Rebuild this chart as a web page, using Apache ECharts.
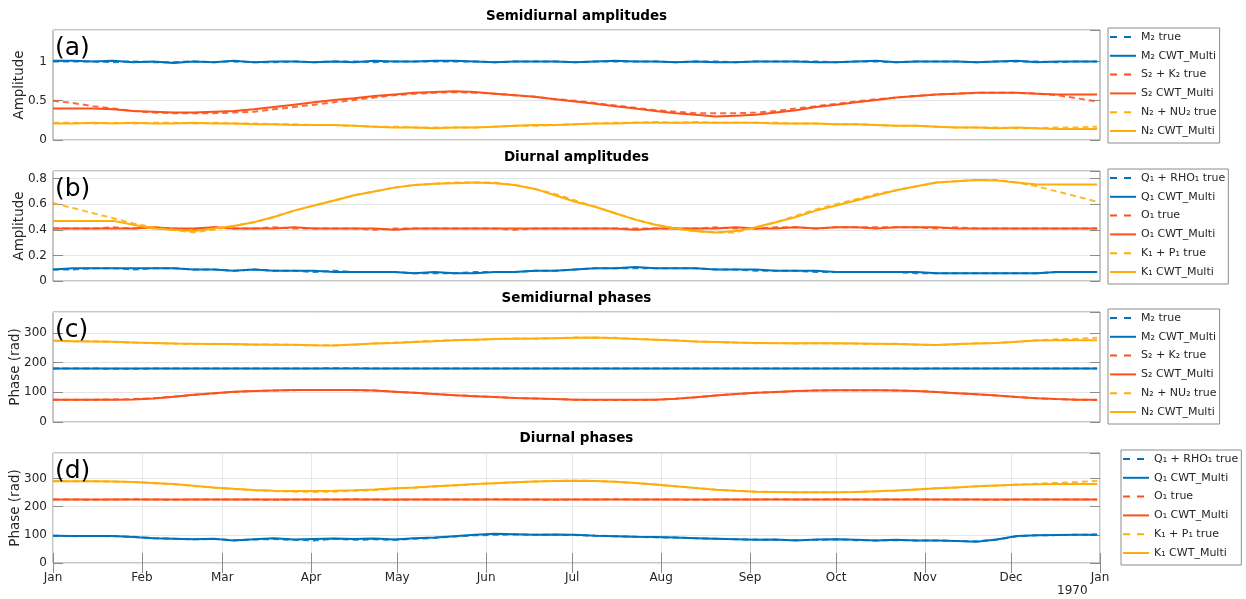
<!DOCTYPE html>
<html>
<head>
<meta charset="utf-8">
<script src="https://cdn.jsdelivr.net/npm/echarts@6/dist/echarts.min.js"></script>
<style>
  html, body { margin: 0; padding: 0; background: #ffffff; }
  #chart { width: 1246px; height: 599px; }
</style>
</head>
<body>
<div id="chart"></div>
<script>
// Time base: weekly samples over 1969
const DAY = 86400000;
const START = Date.UTC(1969, 0, 1);
const END = Date.UTC(1970, 0, 1);
const STEP_DAYS = 7;
const MONTHS = ['Jan', 'Feb', 'Mar', 'Apr', 'May', 'Jun', 'Jul', 'Aug', 'Sep', 'Oct', 'Nov', 'Dec'];

// ---- (a) semidiurnal amplitudes ----
const ampM2True = [
  1.00, 1.00, 1.00, 0.99, 1.00, 0.99, 0.99, 1.00, 0.99, 1.00,
  0.99, 0.99, 1.00, 0.99, 1.00, 1.00, 0.99, 1.00, 1.00, 1.00,
  1.00, 1.00, 0.99, 1.00, 1.00, 1.00, 0.99, 1.00, 1.00, 1.00,
  1.00, 0.99, 1.00, 1.00, 0.99, 1.00, 1.00, 1.00, 1.00, 0.99,
  1.00, 1.00, 0.99, 1.00, 1.00, 1.00, 0.99, 1.00, 1.00, 1.00,
  0.99, 1.00, 1.00];
const ampM2Cwt = [
  1.01, 1.01, 1.00, 1.01, 0.99, 1.00, 0.98, 1.00, 0.99, 1.01,
  0.99, 1.00, 1.00, 0.99, 1.00, 0.99, 1.01, 1.00, 1.00, 1.01,
  1.01, 1.00, 0.99, 1.00, 1.00, 1.00, 0.99, 1.00, 1.01, 1.00,
  1.00, 0.99, 1.00, 0.99, 0.99, 1.00, 1.00, 1.00, 0.99, 0.99,
  1.00, 1.01, 0.99, 1.00, 1.00, 1.00, 0.99, 1.00, 1.01, 0.99,
  1.00, 1.00, 1.00];
const ampS2True = [
  0.50, 0.47, 0.43, 0.40, 0.37, 0.35, 0.34, 0.34, 0.34, 0.35,
  0.36, 0.39, 0.42, 0.45, 0.48, 0.51, 0.54, 0.57, 0.59, 0.60,
  0.61, 0.60, 0.59, 0.57, 0.55, 0.52, 0.50, 0.47, 0.44, 0.41,
  0.38, 0.36, 0.34, 0.34, 0.34, 0.35, 0.37, 0.40, 0.43, 0.46,
  0.49, 0.52, 0.54, 0.56, 0.58, 0.59, 0.60, 0.60, 0.60, 0.59,
  0.57, 0.53, 0.49];
const ampS2Cwt = [
  0.40, 0.40, 0.40, 0.39, 0.37, 0.36, 0.35, 0.35, 0.36, 0.37,
  0.39, 0.42, 0.45, 0.48, 0.51, 0.53, 0.56, 0.58, 0.60, 0.61,
  0.62, 0.61, 0.59, 0.57, 0.55, 0.52, 0.49, 0.46, 0.43, 0.40,
  0.37, 0.34, 0.32, 0.30, 0.31, 0.32, 0.35, 0.38, 0.42, 0.45,
  0.48, 0.51, 0.54, 0.56, 0.58, 0.59, 0.60, 0.60, 0.60, 0.59,
  0.58, 0.58, 0.58];
const ampN2True = [
  0.22, 0.22, 0.21, 0.22, 0.21, 0.22, 0.22, 0.21, 0.22, 0.21,
  0.21, 0.20, 0.20, 0.19, 0.19, 0.18, 0.17, 0.17, 0.16, 0.16,
  0.16, 0.16, 0.17, 0.18, 0.18, 0.19, 0.20, 0.21, 0.22, 0.22,
  0.23, 0.22, 0.23, 0.22, 0.22, 0.22, 0.22, 0.21, 0.21, 0.20,
  0.20, 0.19, 0.18, 0.18, 0.17, 0.16, 0.16, 0.16, 0.15, 0.15,
  0.16, 0.16, 0.17];
const ampN2Cwt = [
  0.21, 0.21, 0.22, 0.21, 0.22, 0.21, 0.21, 0.22, 0.21, 0.21,
  0.20, 0.20, 0.19, 0.19, 0.19, 0.18, 0.17, 0.16, 0.16, 0.15,
  0.16, 0.16, 0.17, 0.18, 0.19, 0.19, 0.20, 0.21, 0.21, 0.22,
  0.22, 0.22, 0.22, 0.22, 0.22, 0.22, 0.21, 0.21, 0.21, 0.20,
  0.20, 0.19, 0.18, 0.18, 0.17, 0.16, 0.16, 0.15, 0.16, 0.15,
  0.14, 0.14, 0.14];

// ---- (b) diurnal amplitudes ----
const ampQ1True = [
  0.09, 0.09, 0.10, 0.10, 0.09, 0.10, 0.10, 0.09, 0.09, 0.08,
  0.09, 0.08, 0.08, 0.07, 0.08, 0.07, 0.07, 0.07, 0.06, 0.06,
  0.06, 0.07, 0.07, 0.07, 0.08, 0.08, 0.09, 0.10, 0.10, 0.10,
  0.10, 0.10, 0.10, 0.09, 0.09, 0.08, 0.08, 0.08, 0.07, 0.07,
  0.07, 0.07, 0.07, 0.06, 0.06, 0.06, 0.06, 0.06, 0.06, 0.06,
  0.07, 0.07, 0.07];
const ampQ1Cwt = [
  0.09, 0.10, 0.10, 0.10, 0.10, 0.10, 0.10, 0.09, 0.09, 0.08,
  0.09, 0.08, 0.08, 0.08, 0.07, 0.07, 0.07, 0.07, 0.06, 0.07,
  0.06, 0.06, 0.07, 0.07, 0.08, 0.08, 0.09, 0.10, 0.10, 0.11,
  0.10, 0.10, 0.10, 0.09, 0.09, 0.09, 0.08, 0.08, 0.08, 0.07,
  0.07, 0.07, 0.07, 0.07, 0.06, 0.06, 0.06, 0.06, 0.06, 0.06,
  0.07, 0.07, 0.07];
const ampO1True = [
  0.41, 0.41, 0.41, 0.42, 0.41, 0.42, 0.41, 0.40, 0.42, 0.41,
  0.41, 0.42, 0.41, 0.41, 0.41, 0.41, 0.40, 0.41, 0.41, 0.41,
  0.41, 0.41, 0.41, 0.40, 0.41, 0.41, 0.41, 0.41, 0.41, 0.41,
  0.41, 0.41, 0.41, 0.42, 0.41, 0.41, 0.42, 0.42, 0.41, 0.42,
  0.42, 0.42, 0.42, 0.42, 0.41, 0.42, 0.41, 0.41, 0.41, 0.41,
  0.41, 0.41, 0.41];
const ampO1Cwt = [
  0.41, 0.41, 0.41, 0.41, 0.41, 0.42, 0.41, 0.41, 0.42, 0.41,
  0.41, 0.41, 0.42, 0.41, 0.41, 0.41, 0.41, 0.40, 0.41, 0.41,
  0.41, 0.41, 0.41, 0.41, 0.41, 0.41, 0.41, 0.41, 0.41, 0.40,
  0.41, 0.41, 0.41, 0.41, 0.42, 0.41, 0.41, 0.42, 0.41, 0.42,
  0.42, 0.41, 0.42, 0.42, 0.42, 0.41, 0.41, 0.41, 0.41, 0.41,
  0.41, 0.41, 0.41];
const ampK1True = [
  0.61, 0.57, 0.53, 0.49, 0.45, 0.42, 0.40, 0.38, 0.40, 0.43,
  0.46, 0.50, 0.55, 0.59, 0.63, 0.67, 0.70, 0.73, 0.75, 0.76,
  0.77, 0.77, 0.77, 0.75, 0.72, 0.68, 0.63, 0.58, 0.53, 0.48,
  0.44, 0.41, 0.39, 0.38, 0.38, 0.42, 0.46, 0.51, 0.56, 0.60,
  0.64, 0.68, 0.71, 0.74, 0.77, 0.78, 0.79, 0.79, 0.77, 0.74,
  0.70, 0.66, 0.62];
const ampK1Cwt = [
  0.47, 0.47, 0.47, 0.47, 0.44, 0.41, 0.40, 0.39, 0.41, 0.43,
  0.46, 0.50, 0.55, 0.59, 0.63, 0.67, 0.70, 0.73, 0.75, 0.76,
  0.765, 0.77, 0.765, 0.75, 0.72, 0.67, 0.62, 0.58, 0.53, 0.48,
  0.44, 0.41, 0.39, 0.38, 0.39, 0.42, 0.46, 0.50, 0.55, 0.59,
  0.63, 0.67, 0.71, 0.74, 0.77, 0.78, 0.79, 0.785, 0.77, 0.755,
  0.755, 0.755, 0.755];

// ---- (c) semidiurnal phases ----
const phaM2True = [
  180, 180, 180, 179, 179, 180, 180, 180, 180, 180,
  180, 180, 180, 180, 181, 181, 180, 180, 180, 180,
  180, 180, 180, 180, 180, 180, 180, 180, 180, 180,
  180, 180, 180, 180, 180, 180, 180, 180, 180, 180,
  180, 180, 180, 179, 180, 180, 180, 180, 180, 180,
  180, 180, 180];
const phaM2Cwt = [
  180, 180, 180, 180, 180, 180, 180, 180, 180, 180,
  180, 180, 180, 180, 180, 180, 180, 180, 180, 180,
  180, 180, 180, 180, 180, 180, 180, 180, 180, 180,
  180, 180, 180, 180, 180, 180, 180, 180, 180, 180,
  180, 180, 180, 180, 180, 180, 180, 180, 180, 180,
  180, 180, 180];
const phaS2True = [
  75, 75, 75, 76, 77, 80, 85, 91, 96, 101,
  104, 106, 107, 108, 108, 107, 106, 102, 98, 94,
  90, 87, 84, 81, 79, 77, 75, 74, 74, 74,
  75, 78, 83, 89, 94, 98, 101, 104, 106, 107,
  107, 107, 106, 104, 101, 97, 93, 89, 84, 80,
  77, 75, 74];
const phaS2Cwt = [
  75, 75, 75, 75, 76, 79, 85, 92, 97, 102,
  104, 106, 108, 108, 108, 108, 106, 102, 98, 94,
  90, 87, 84, 81, 79, 77, 75, 75, 75, 75,
  75, 78, 83, 89, 94, 98, 101, 104, 106, 107,
  107, 107, 106, 104, 101, 97, 93, 89, 84, 80,
  77, 75, 75];
const phaN2True = [
  273, 271, 272, 269, 267, 265, 264, 262, 263, 261,
  260, 261, 259, 258, 258, 260, 264, 267, 270, 273,
  276, 277, 279, 281, 280, 282, 284, 283, 283, 280,
  277, 275, 271, 269, 267, 265, 266, 264, 265, 264,
  264, 262, 263, 260, 259, 261, 265, 266, 270, 275,
  278, 280, 283];
const phaN2Cwt = [
  274, 272, 271, 270, 267, 266, 264, 263, 262, 262,
  261, 260, 260, 258, 257, 261, 264, 266, 269, 272,
  275, 277, 279, 280, 281, 282, 283, 284, 282, 279,
  277, 274, 271, 269, 267, 266, 265, 265, 265, 265,
  264, 263, 262, 261, 259, 262, 264, 266, 270, 274,
  275, 275, 275];

// ---- (d) diurnal phases ----
const phaQ1True = [
  97, 95, 96, 95, 93, 88, 86, 84, 85, 81,
  83, 85, 82, 80, 86, 82, 84, 82, 86, 89,
  94, 98, 100, 101, 100, 100, 99, 97, 95, 93,
  91, 90, 88, 86, 84, 83, 82, 81, 82, 84,
  81, 80, 81, 80, 80, 78, 77, 83, 95, 98,
  99, 100, 101];
const phaQ1Cwt = [
  97, 96, 96, 96, 92, 88, 86, 84, 86, 80,
  84, 88, 83, 85, 87, 85, 87, 83, 88, 90,
  95, 100, 104, 102, 100, 101, 100, 97, 95, 93,
  92, 90, 88, 86, 84, 82, 83, 80, 83, 84,
  82, 80, 82, 80, 80, 78, 75, 83, 96, 98,
  99, 100, 100];
const phaO1True = [
  225, 225, 224, 225, 226, 225, 224, 225, 225, 225,
  225, 224, 225, 225, 225, 226, 225, 224, 225, 225,
  225, 225, 226, 225, 225, 224, 225, 225, 226, 225,
  225, 225, 224, 225, 225, 225, 226, 225, 225, 226,
  225, 225, 225, 226, 225, 225, 225, 224, 225, 225,
  225, 225, 225];
const phaO1Cwt = [
  225, 225, 225, 225, 225, 225, 225, 225, 225, 225,
  225, 225, 225, 225, 225, 225, 225, 225, 225, 225,
  225, 225, 225, 225, 225, 225, 225, 225, 225, 225,
  225, 225, 225, 225, 225, 225, 225, 225, 225, 225,
  225, 225, 225, 225, 225, 225, 225, 225, 225, 225,
  225, 225, 225];
const phaK1True = [
  291, 290, 290, 289, 287, 283, 279, 273, 267, 262,
  258, 255, 253, 252, 253, 256, 259, 263, 267, 271,
  275, 279, 283, 286, 289, 291, 292, 291, 288, 284,
  278, 272, 266, 260, 256, 253, 252, 251, 251, 251,
  252, 254, 257, 261, 265, 268, 272, 275, 278, 281,
  284, 287, 291];
const phaK1Cwt = [
  290, 290, 290, 289, 287, 284, 280, 274, 268, 263,
  259, 256, 255, 255, 256, 258, 261, 265, 268, 272,
  276, 280, 283, 286, 289, 291, 292, 291, 288, 284,
  278, 272, 266, 260, 256, 253, 252, 251, 251, 251,
  252, 254, 257, 261, 265, 268, 272, 275, 277, 279,
  280, 280, 280];

// ---- styling ----
const FONT = 'DejaVu Sans';
const TEXT = '#262626';
const BORDER = '#8c8c8c';
const GRIDLINE = '#e6e6e6';
const BLUE = '#0072BD';
const RED = '#FC5119';
const YELLOW = '#FFAD0A';
const DASH_ICON = 'path://M0,0H7V2H0Z M14,0H21V2H14Z M25.9,0H26V2H25.9Z';
const SOLID_ICON = 'path://M0,0H26V2H0Z';

function toPoints(values) {
  return values.map((v, i) => [START + i * STEP_DAYS * DAY, v]);
}

const panels = [
  { top: 30, yMax: 1.4, interval: 0.5, yName: 'Amplitude', nameGap: 27,
    title: 'Semidiurnal amplitudes', titleY: 17, tag: '(a)', legendLeft: 1108, legendTop: 28,
    lines: [
      ['M₂ true', BLUE, true, ampM2True], ['M₂ CWT_Multi', BLUE, false, ampM2Cwt],
      ['S₂ + K₂ true', RED, true, ampS2True], ['S₂ CWT_Multi', RED, false, ampS2Cwt],
      ['N₂ + NU₂ true', YELLOW, true, ampN2True], ['N₂ CWT_Multi', YELLOW, false, ampN2Cwt]
    ] },
  { top: 171, yMax: 0.86, interval: 0.2, yName: 'Amplitude', nameGap: 27,
    title: 'Diurnal amplitudes', titleY: 158, tag: '(b)', legendLeft: 1108, legendTop: 169,
    lines: [
      ['Q₁ + RHO₁ true', BLUE, true, ampQ1True], ['Q₁ CWT_Multi', BLUE, false, ampQ1Cwt],
      ['O₁ true', RED, true, ampO1True], ['O₁ CWT_Multi', RED, false, ampO1Cwt],
      ['K₁ + P₁ true', YELLOW, true, ampK1True], ['K₁ CWT_Multi', YELLOW, false, ampK1Cwt]
    ] },
  { top: 312, yMax: 370, interval: 100, yName: 'Phase (rad)', nameGap: 31,
    title: 'Semidiurnal phases', titleY: 299, tag: '(c)', legendLeft: 1108, legendTop: 309,
    lines: [
      ['M₂ true', BLUE, true, phaM2True], ['M₂ CWT_Multi', BLUE, false, phaM2Cwt],
      ['S₂ + K₂ true', RED, true, phaS2True], ['S₂ CWT_Multi', RED, false, phaS2Cwt],
      ['N₂ + NU₂ true', YELLOW, true, phaN2True], ['N₂ CWT_Multi', YELLOW, false, phaN2Cwt]
    ] },
  { top: 453, yMax: 390, interval: 100, yName: 'Phase (rad)', nameGap: 31,
    title: 'Diurnal phases', titleY: 439, tag: '(d)', legendLeft: 1121, legendTop: 450,
    lines: [
      ['Q₁ + RHO₁ true', BLUE, true, phaQ1True], ['Q₁ CWT_Multi', BLUE, false, phaQ1Cwt],
      ['O₁ true', RED, true, phaO1True], ['O₁ CWT_Multi', RED, false, phaO1Cwt],
      ['K₁ + P₁ true', YELLOW, true, phaK1True], ['K₁ CWT_Multi', YELLOW, false, phaK1Cwt]
    ] }
];

const tick = { show: true, inside: true, length: 10, lineStyle: { color: BORDER, width: 1 } };

const grid = [], xAxis = [], yAxis = [], series = [], legend = [], title = [], graphic = [];

panels.forEach((p, i) => {
  grid.push({ left: 53, top: p.top, width: 1047, height: 110, show: true,
    containLabel: false, outerBoundsMode: 'none',
    borderColor: BORDER, borderWidth: 1, backgroundColor: '#ffffff' });

  const isBottom = i === panels.length - 1;
  xAxis.push({
    type: 'time', gridIndex: i, min: START, max: END, splitNumber: 12, show: isBottom,
    axisLine: { show: false }, axisTick: tick,
    axisLabel: { margin: 9, fontSize: 12, color: TEXT, fontFamily: FONT,
      showMinLabel: true, showMaxLabel: true, hideOverlap: false,
      formatter: v => MONTHS[new Date(v).getUTCMonth()] },
    splitLine: { show: true, lineStyle: { color: GRIDLINE, width: 1 } }
  });

  yAxis.push({
    type: 'value', gridIndex: i, min: 0, max: p.yMax, interval: p.interval,
    name: p.yName, nameLocation: 'middle', nameGap: p.nameGap, nameMoveOverlap: false,
    nameTextStyle: { fontSize: 13.5, color: TEXT, fontFamily: FONT },
    axisLine: { show: false }, axisTick: tick,
    axisLabel: { margin: 6, fontSize: 12, color: TEXT, fontFamily: FONT, showMaxLabel: false },
    splitLine: { show: true, lineStyle: { color: GRIDLINE, width: 1 } }
  });
  yAxis.push({
    type: 'value', gridIndex: i, position: 'right', min: 0, max: p.yMax, interval: p.interval,
    axisLine: { show: false }, axisTick: tick, axisLabel: { show: false }, splitLine: { show: false }
  });

  p.lines.forEach(([name, color, dashed, values]) => {
    series.push({
      type: 'line', name, xAxisIndex: i, yAxisIndex: 2 * i,
      data: toPoints(values), symbol: 'none', showSymbol: false, silent: true,
      itemStyle: { color },
      lineStyle: { color, width: 2, type: dashed ? [6, 4] : 'solid', opacity: dashed ? 0.85 : 1 }
    });
  });

  legend.push({
    orient: 'vertical', left: p.legendLeft, top: p.legendTop,
    padding: [2, 3, 5, 2], itemGap: 4.8, itemWidth: 26, itemHeight: 2,
    symbolKeepAspect: false, selectedMode: false,
    borderColor: BORDER, borderWidth: 1, backgroundColor: '#ffffff',
    itemStyle: { borderWidth: 0 },
    textStyle: { fontSize: 11, color: TEXT, fontFamily: FONT, lineHeight: 14 },
    data: p.lines.map(([name, , dashed]) => ({ name, icon: dashed ? DASH_ICON : SOLID_ICON }))
  });

  title.push({
    text: p.title, left: 576.5, top: p.titleY - 8, textAlign: 'center', padding: 0,
    textStyle: { fontSize: 13.5, fontWeight: 'bold', color: '#000000', fontFamily: FONT }
  });

  graphic.push({
    type: 'text', left: 55, top: p.top + 6, z: 100,
    style: { text: p.tag, fontSize: 25, fill: '#000000', fontFamily: FONT }
  });
});

// Top edge ticks of the bottom panel
xAxis.push({
  type: 'time', gridIndex: 3, position: 'top', min: START, max: END, splitNumber: 12,
  axisLine: { show: false }, axisTick: tick, axisLabel: { show: false }, splitLine: { show: false }
});

// Year marker under the last month label
graphic.push({
  type: 'text', left: 1057, top: 585,
  style: { text: '1970', fontSize: 12, fill: TEXT, fontFamily: FONT }
});

const chart = echarts.init(document.getElementById('chart'), null, { renderer: 'canvas' });
chart.setOption({
  animation: false,
  useUTC: true,
  backgroundColor: '#ffffff',
  textStyle: { fontFamily: FONT },
  title, grid, xAxis, yAxis, series, legend, graphic
});
</script>
</body>
</html>
